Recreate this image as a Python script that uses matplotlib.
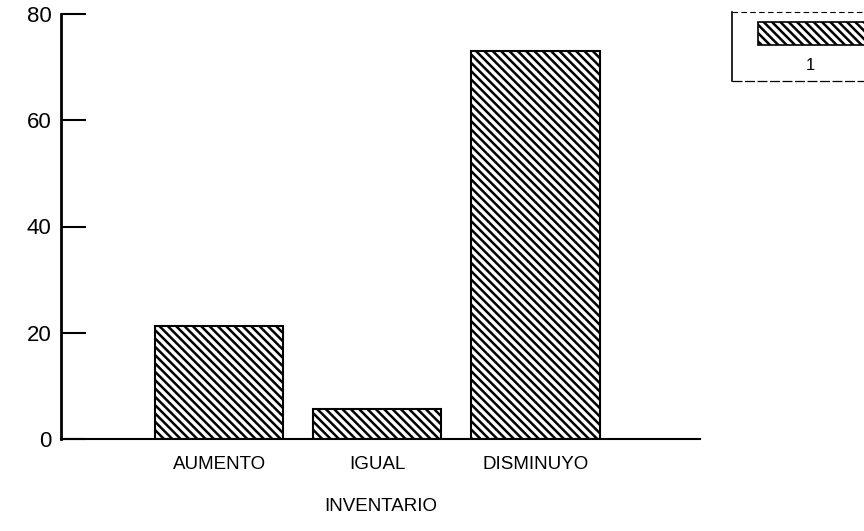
import matplotlib.pyplot as plt
from matplotlib.patches import Rectangle

plt.rcParams['font.family'] = ['Liberation Sans', 'DejaVu Sans']
plt.rcParams['hatch.linewidth'] = 1.8

categorias = ["AUMENTO", "IGUAL", "DISMINUYO"]
valores = [21.3, 5.6, 73.0]
y_ticks = [0, 20, 40, 60, 80]
serie = "1"

fig = plt.figure(figsize=(8.64, 5.31), dpi=100)
ax = fig.add_axes([61 / 864, 1 - 439 / 531, (700 - 61) / 864, (439 - 14) / 531])

x = list(range(len(categorias)))
ax.bar(x, valores, width=0.81, color="white", edgecolor="black",
       hatch="\\\\\\\\", linewidth=1.5)

ax.set_xlim(-1.0, 3.04)
ax.set_ylim(0, 80)
ax.set_yticks(y_ticks)
ax.set_yticklabels([str(t) for t in y_ticks], fontsize=16)
ax.tick_params(axis="y", direction="in", length=18, width=1.5, pad=7)
ax.set_xticks(x)
ax.set_xticklabels(categorias, fontsize=13.5)
ax.tick_params(axis="x", length=0, pad=12)
for s in ["top", "right"]:
    ax.spines[s].set_visible(False)
ax.spines["left"].set_linewidth(2)
ax.spines["bottom"].set_linewidth(1.5)
ax.set_xlabel("INVENTARIO", fontsize=13.5, labelpad=18)

# leyenda dibujada a mano (recortada en el borde derecho)
lg = fig.add_axes([732 / 864, 1 - 81 / 531, (864 - 732) / 864, (81 - 12) / 531])
lg.set_xlim(0, 1)
lg.set_ylim(0, 1)
lg.axis("off")
lg.plot([0, 0], [1, 0], color="black", lw=1.2, clip_on=False)
lg.plot([0, 1.1], [0, 0], color="black", lw=0.9, ls=(0, (8, 2)), clip_on=False)
lg.plot([0, 1.1], [1, 1], color="black", lw=0.8, ls=(0, (5, 3)), clip_on=False)
lg.add_patch(Rectangle((0.2, 0.52), 0.9, 0.33, facecolor="white",
                       edgecolor="black", hatch="\\\\\\\\", lw=1.2, clip_on=False))
lg.text(0.59, 0.23, serie, ha="center", va="center", fontsize=12)

fig.savefig("out.png", dpi=100)
